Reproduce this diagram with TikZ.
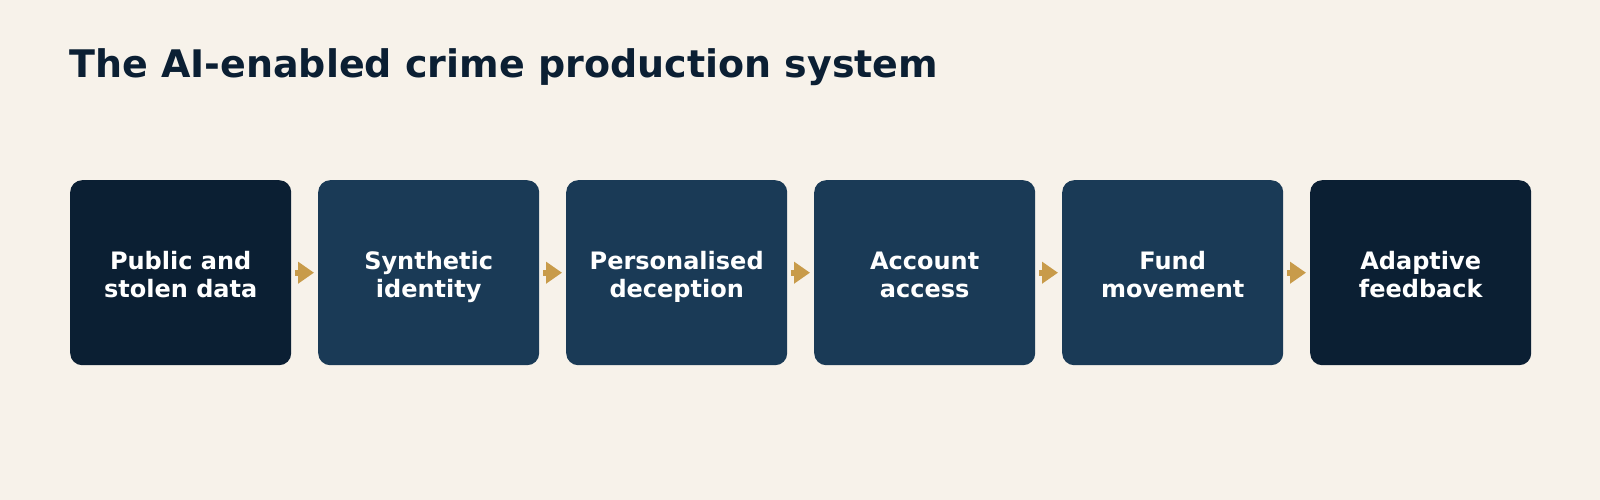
\documentclass[tikz,border=0pt]{standalone}
\usepackage{fontspec}
\setmainfont{DejaVu Sans}
\usetikzlibrary{arrows.meta}
\definecolor{paper}{HTML}{F7F2EA}
\definecolor{ink}{HTML}{0B1F33}
\definecolor{navy}{HTML}{0B1F33}
\definecolor{steel}{HTML}{1A3A56}
\definecolor{gold}{HTML}{C89B4A}
% two centred lines with fixed baselines
\newcommand{\stagetext}[2]{\rule{0pt}{27.6pt}#1\\#2\rule[-6pt]{0pt}{6pt}}
\tikzset{
  stage/.style={fill=steel,rounded corners=12pt,minimum width=221pt,minimum height=185pt,
    inner sep=0pt,align=center,text=white,anchor=north west,
    font=\fontsize{24}{28}\selectfont\bfseries},
  endstage/.style={stage,fill=navy},
  flow/.style={draw=gold,line width=6pt,-{Triangle[length=16pt,width=21pt]},shorten <=4pt,shorten >=4pt}
}
\begin{document}
\begin{tikzpicture}[x=1pt,y=-1pt]
\fill[paper] (0,0) rectangle (1600,500);
\node[anchor=base west,inner sep=0pt,text=ink,font=\fontsize{38}{44}\selectfont\bfseries] (title) at (69,77.5) {The AI-enabled crime production system};
\node[endstage] (data) at (70,180) {\stagetext{Public and}{stolen data}};
\node[stage] (identity) at (318,180) {\stagetext{Synthetic}{identity}};
\node[stage] (deception) at (566,180) {\stagetext{Personalised}{deception}};
\node[stage] (access) at (814,180) {\stagetext{Account}{access}};
\node[stage] (funds) at (1062,180) {\stagetext{Fund}{movement}};
\node[endstage] (feedback) at (1310,180) {\stagetext{Adaptive}{feedback}};
\draw[flow] (data) -- (identity);
\draw[flow] (identity) -- (deception);
\draw[flow] (deception) -- (access);
\draw[flow] (access) -- (funds);
\draw[flow] (funds) -- (feedback);
\end{tikzpicture}
\end{document}
